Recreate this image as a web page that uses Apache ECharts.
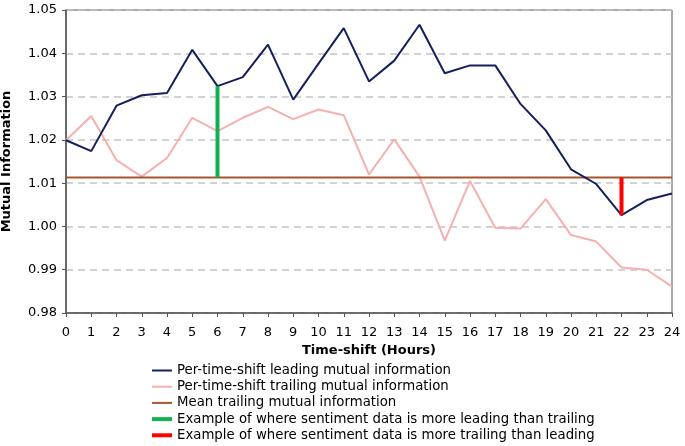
<!DOCTYPE html>
<html><head><meta charset="utf-8">
<script src="https://cdn.jsdelivr.net/npm/echarts@6/dist/echarts.min.js"></script>
<style>html,body{margin:0;padding:0;background:#fff}#c{width:685px;height:446px}</style>
</head><body><div id="c"></div>
<script>
const hours = [0,1,2,3,4,5,6,7,8,9,10,11,12,13,14,15,16,17,18,19,20,21,22,23,24];
const leading = [1.0199,1.0174,1.0279,1.0303,1.0308,1.0408,1.0324,1.0345,1.0420,1.0293,1.0376,1.0458,1.0335,1.0383,1.0466,1.0354,1.0372,1.0372,1.0283,1.0222,1.0132,1.0098,1.0026,1.0061,1.0076];
const trailing = [1.0199,1.0255,1.0153,1.0115,1.0158,1.0251,1.0220,1.0251,1.0276,1.0248,1.0270,1.0257,1.0120,1.0201,1.0115,0.9967,1.0105,0.9997,0.9995,1.0063,0.9980,0.9965,0.9905,0.9900,0.9861];
const meanTrailing = 1.0113;
const leadExampleHour = 6;
const trailExampleHour = 22;
const names = ['Per-time-shift leading mutual information','Per-time-shift trailing mutual information','Mean trailing mutual information','Example of where sentiment data is more leading than trailing','Example of where sentiment data is more trailing than leading'];
const yTicks = {min:0.98, max:1.05, interval:0.01};

const FONT = 'DejaVu Sans';
const chart = echarts.init(document.getElementById('c'));
const thin = 'path://M0,0H20V2H0Z';
const thick = 'path://M0,0H20V4H0Z';
chart.setOption({
  animation:false,
  grid:{left:66,right:13,top:10,bottom:133,show:true,borderColor:'#555',borderWidth:1,containLabel:false,outerBoundsMode:'none'},
  xAxis:{type:'value',min:0,max:24,interval:1,
    name:'Time-shift (Hours)',nameLocation:'middle',nameGap:31,
    nameTextStyle:{fontFamily:FONT,fontWeight:'bold',fontSize:13,color:'#000'},
    axisLine:{lineStyle:{color:'#555',width:1.5}},
    axisTick:{show:true,length:4,lineStyle:{color:'#555'}},
    axisLabel:{fontFamily:FONT,fontSize:13,color:'#000',margin:13},
    splitLine:{show:false}},
  yAxis:{type:'value',min:yTicks.min,max:yTicks.max,interval:yTicks.interval,
    name:'Mutual Information',nameLocation:'middle',nameGap:53,
    nameTextStyle:{fontFamily:FONT,fontWeight:'bold',fontSize:13,color:'#000'},
    axisLine:{show:true,lineStyle:{color:'#555',width:1.5}},
    axisTick:{show:true,length:4,lineStyle:{color:'#555'}},
    axisLabel:{fontFamily:FONT,fontSize:13,color:'#000',margin:9,formatter:v=>v.toFixed(2)},
    splitLine:{show:true,lineStyle:{color:'#c4c4c4',type:[7,5],width:1.5}}},
  legend:{orient:'vertical',left:147,top:359,itemWidth:20,itemHeight:6,itemGap:3.2,height:100,
    textStyle:{fontFamily:FONT,fontSize:13.3,lineHeight:13,color:'#000'},
    data:[{name:names[0],icon:thin},{name:names[1],icon:thin},{name:names[2],icon:thin},{name:names[3],icon:thick},{name:names[4],icon:thick}]},
  series:[
    {name:names[0],type:'line',symbol:'none',data:hours.map((h,i)=>[h,leading[i]]),lineStyle:{color:'#141f5c',width:2},itemStyle:{color:'#141f5c'},z:4},
    {name:names[1],type:'line',symbol:'none',data:hours.map((h,i)=>[h,trailing[i]]),lineStyle:{color:'#f5b0b0',width:2},itemStyle:{color:'#f5b0b0'},z:3},
    {name:names[2],type:'line',symbol:'none',data:[[hours[0],meanTrailing],[hours[hours.length-1],meanTrailing]],lineStyle:{color:'#a8552a',width:2},itemStyle:{color:'#a8552a'},z:3},
    {name:names[3],type:'line',symbol:'none',data:[[leadExampleHour,meanTrailing],[leadExampleHour,leading[hours.indexOf(leadExampleHour)]]],lineStyle:{color:'#12b050',width:4},itemStyle:{color:'#12b050'},z:5},
    {name:names[4],type:'line',symbol:'none',data:[[trailExampleHour,meanTrailing],[trailExampleHour,leading[hours.indexOf(trailExampleHour)]]],lineStyle:{color:'#ff0000',width:4},itemStyle:{color:'#ff0000'},z:5}
  ]
});
</script></body></html>
